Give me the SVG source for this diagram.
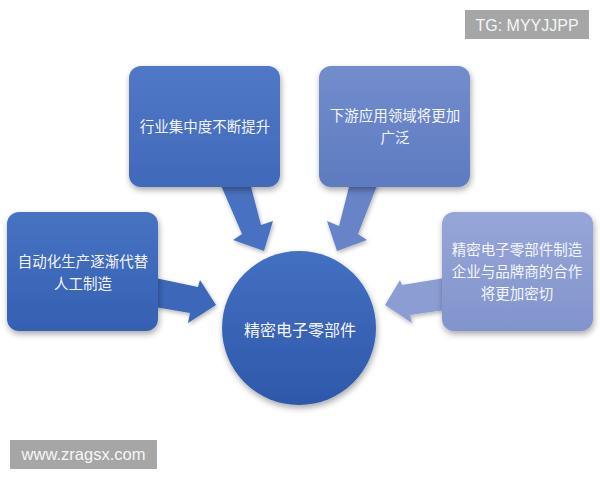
<svg xmlns="http://www.w3.org/2000/svg" width="600" height="480" viewBox="0 0 600 480">
  <defs>
    <filter id="sh" x="-20%" y="-20%" width="140%" height="150%">
      <feDropShadow dx="1" dy="3" stdDeviation="3" flood-color="#000" flood-opacity="0.35"/>
    </filter>
    <filter id="ash" x="-20%" y="-20%" width="140%" height="150%">
      <feDropShadow dx="1" dy="2" stdDeviation="2" flood-color="#000" flood-opacity="0.3"/>
    </filter>
    <linearGradient id="g1" x1="0" y1="0" x2="0" y2="1">
      <stop offset="0" stop-color="#4773c3"/>
      <stop offset="1" stop-color="#3560b2"/>
    </linearGradient>
    <linearGradient id="g2" x1="0" y1="0" x2="0" y2="1">
      <stop offset="0" stop-color="#5078c6"/>
      <stop offset="1" stop-color="#4169ba"/>
    </linearGradient>
    <linearGradient id="g3" x1="0" y1="0" x2="0" y2="1">
      <stop offset="0" stop-color="#738dcc"/>
      <stop offset="1" stop-color="#5d7bc2"/>
    </linearGradient>
    <linearGradient id="g4" x1="0" y1="0" x2="0" y2="1">
      <stop offset="0" stop-color="#97a6d8"/>
      <stop offset="1" stop-color="#8294cd"/>
    </linearGradient>
    <linearGradient id="gc" x1="0" y1="0" x2="0" y2="1">
      <stop offset="0" stop-color="#4470c2"/>
      <stop offset="1" stop-color="#2e58aa"/>
    </linearGradient>
  </defs>
  <style>
    .t { font-family: "Noto Sans CJK SC", "Noto Sans", sans-serif; font-size: 14.5px; fill: #f4f6fb; text-anchor: middle; }
    .tc { font-size: 16px; }
    .wm { font-family: "Liberation Sans", Arial, sans-serif; fill: #f6f6f6; text-anchor: middle; }
    .wmb { fill: #a6a6a6; }
  </style>
  <rect width="600" height="480" fill="#ffffff"/>

  <g id="connectors" filter="url(#ash)">
    <polygon fill="#3e67b9" points="155,278 198,287 200,280 216,305 188,323 190,313 155,307"/>
    <polygon fill="#4a71c1" points="220,183 250,183 261,225 273,221 264,251 233,240 242,234"/>
    <polygon fill="#6883c8" points="350,183 378,183 358,234 367,240 337,251 327,221 339,226"/>
    <polygon fill="#8b9dd3" points="445,278 402,285 400,280 385,305 412,323 410,315 445,310"/>
  </g>

  <g id="node-left">
    <rect x="7" y="212" width="151" height="119" rx="12" fill="url(#g1)" filter="url(#sh)"/>
    <text class="t" x="83" y="267">自动化生产逐渐代替</text>
    <text class="t" x="83" y="289">人工制造</text>
  </g>
  <g id="node-top-left">
    <rect x="129" y="66" width="151" height="121" rx="12" fill="url(#g2)" filter="url(#sh)"/>
    <text class="t" x="205" y="132">行业集中度不断提升</text>
  </g>
  <g id="node-top-right">
    <rect x="319" y="66" width="151" height="121" rx="12" fill="url(#g3)" filter="url(#sh)"/>
    <text class="t" x="395" y="121">下游应用领域将更加</text>
    <text class="t" x="395" y="143">广泛</text>
  </g>
  <g id="node-right">
    <rect x="442" y="212" width="151" height="119" rx="12" fill="url(#g4)" filter="url(#sh)"/>
    <text class="t" x="517" y="255">精密电子零部件制造</text>
    <text class="t" x="517" y="277">企业与品牌商的合作</text>
    <text class="t" x="517" y="299">将更加密切</text>
  </g>
  <g id="node-center">
    <circle cx="299" cy="328" r="77" fill="url(#gc)" filter="url(#sh)"/>
    <text class="t tc" x="300" y="336">精密电子零部件</text>
  </g>

  <g id="watermark-tg">
    <rect class="wmb" x="465" y="10" width="124" height="29"/>
    <text class="wm" x="527" y="31" font-size="16">TG: MYYJJPP</text>
  </g>
  <g id="watermark-www">
    <rect class="wmb" x="10" y="440" width="147" height="29"/>
    <text class="wm" x="83.5" y="460" font-size="16.5">www.zragsx.com</text>
  </g>
</svg>
